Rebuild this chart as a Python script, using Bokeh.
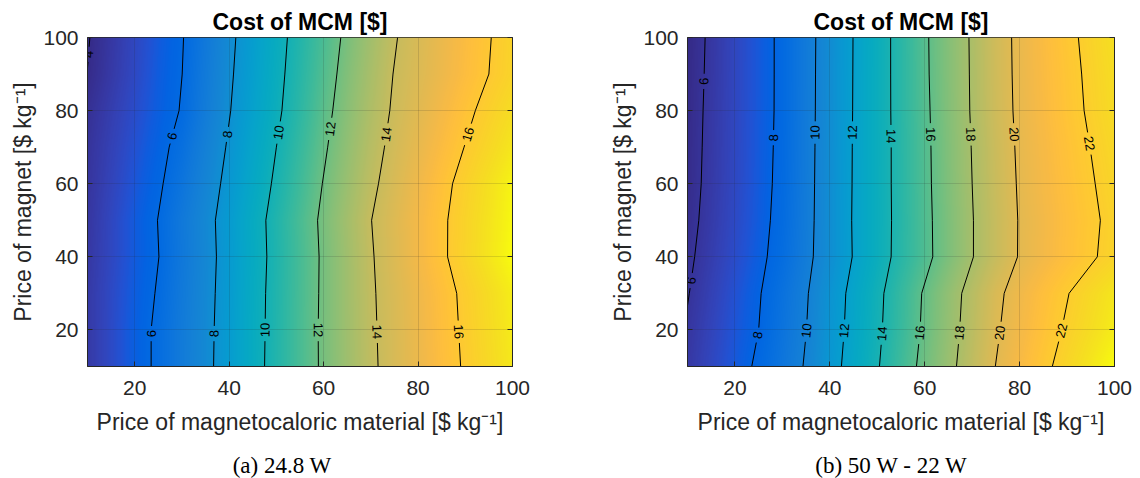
import math
import numpy as np
from bokeh.plotting import figure
from bokeh.layouts import row, column
from bokeh.models import (Range1d, LinearColorMapper, FixedTicker, LinearAxis, Div, Spacer,
                          CustomJSTickFormatter)
from bokeh.core.properties import value
from bokeh.embed import file_html
from bokeh.resources import INLINE

# ---------------------------------------------------------------- data
# Price of magnetocaloric material [$ kg^-1] (columns)
mcm_price = [10, 15, 20, 25, 30, 35, 40, 45, 50, 55, 60, 65, 70, 75, 80, 85, 90, 95, 100]
# Price of magnet [$ kg^-1] (rows)
magnet_price = [10, 20, 30, 40, 50, 60, 70, 80, 90, 100]

# Cost of MCM [$] for the 24.8 W design, one row per magnet price
cost_24w8 = [
    [4.50, 5.04, 5.59, 6.18, 6.94, 7.70, 8.58, 9.54, 10.46, 11.33, 12.19, 13.00, 13.81, 14.43, 14.99, 15.55, 16.11, 16.68, 17.24],
    [4.50, 5.04, 5.59, 6.18, 6.93, 7.68, 8.56, 9.52, 10.44, 11.33, 12.20, 13.02, 13.84, 14.45, 15.02, 15.59, 16.16, 16.74, 17.31],
    [4.50, 5.02, 5.53, 6.08, 6.86, 7.64, 8.52, 9.50, 10.42, 11.31, 12.18, 13.03, 13.87, 14.48, 15.06, 15.63, 16.21, 16.80, 17.38],
    [4.45, 4.96, 5.47, 5.98, 6.78, 7.59, 8.48, 9.44, 10.38, 11.28, 12.17, 13.04, 13.91, 14.57, 15.20, 15.84, 16.48, 17.14, 17.79],
    [4.40, 4.94, 5.47, 6.02, 6.82, 7.63, 8.52, 9.48, 10.42, 11.33, 12.23, 13.11, 13.98, 14.60, 15.22, 15.84, 16.46, 17.07, 17.69],
    [4.35, 4.85, 5.35, 5.85, 6.59, 7.44, 8.32, 9.26, 10.20, 11.13, 12.05, 12.91, 13.78, 14.46, 15.09, 15.71, 16.34, 16.96, 17.59],
    [4.30, 4.77, 5.24, 5.71, 6.34, 7.23, 8.13, 9.07, 10.00, 10.93, 11.85, 12.72, 13.59, 14.30, 14.88, 15.46, 16.03, 16.61, 17.19],
    [4.20, 4.66, 5.11, 5.57, 6.06, 7.00, 7.94, 8.86, 9.78, 10.72, 11.66, 12.54, 13.39, 14.15, 14.69, 15.23, 15.77, 16.31, 16.85],
    [4.01, 4.51, 5.00, 5.50, 5.99, 6.91, 7.83, 8.75, 9.67, 10.59, 11.50, 12.39, 13.24, 14.05, 14.54, 15.02, 15.51, 16.00, 16.49],
    [3.95, 4.45, 4.95, 5.44, 5.94, 6.81, 7.74, 8.66, 9.58, 10.48, 11.36, 12.24, 13.08, 13.93, 14.46, 14.96, 15.45, 15.95, 16.45],
]

# Cost of MCM [$] for the 50 W - 22 W design, one row per magnet price
cost_50w_22w = [
    [6.20, 6.85, 7.49, 8.21, 9.15, 10.13, 11.39, 12.64, 13.88, 15.18, 16.44, 17.59, 18.80, 20.03, 20.86, 21.69, 22.51, 23.34, 24.17],
    [6.10, 6.73, 7.37, 8.00, 8.99, 9.98, 11.24, 12.49, 13.73, 14.99, 16.24, 17.43, 18.63, 19.85, 20.67, 21.42, 22.17, 22.89, 23.60],
    [5.95, 6.60, 7.25, 7.90, 8.86, 9.88, 11.14, 12.42, 13.65, 14.91, 16.16, 17.34, 18.52, 19.71, 20.54, 21.24, 21.94, 22.65, 23.35],
    [5.81, 6.44, 7.06, 7.69, 8.55, 9.64, 10.83, 12.07, 13.31, 14.49, 15.61, 16.76, 17.94, 19.06, 20.09, 20.67, 21.26, 21.84, 22.42],
    [5.70, 6.33, 6.96, 7.59, 8.42, 9.58, 10.82, 12.10, 13.29, 14.47, 15.63, 16.78, 17.94, 19.05, 20.08, 20.64, 21.21, 21.77, 22.34],
    [5.63, 6.27, 6.90, 7.54, 8.34, 9.55, 10.81, 12.08, 13.30, 14.49, 15.67, 16.84, 18.00, 19.14, 20.14, 20.73, 21.31, 21.89, 22.48],
    [5.61, 6.24, 6.88, 7.52, 8.30, 9.53, 10.79, 12.07, 13.29, 14.50, 15.69, 16.87, 18.05, 19.21, 20.20, 20.80, 21.41, 22.02, 22.63],
    [5.58, 6.22, 6.86, 7.50, 8.27, 9.51, 10.77, 12.05, 13.30, 14.53, 15.73, 16.93, 18.12, 19.31, 20.27, 20.90, 21.54, 22.18, 22.82],
    [5.55, 6.19, 6.84, 7.49, 8.27, 9.50, 10.76, 12.04, 13.30, 14.54, 15.78, 16.96, 18.14, 19.35, 20.30, 20.95, 21.60, 22.25, 22.90],
    [5.51, 6.17, 6.83, 7.49, 8.27, 9.49, 10.74, 12.03, 13.29, 14.55, 15.80, 16.98, 18.16, 19.37, 20.32, 21.00, 21.68, 22.35, 23.03],
]

levels_24w8 = [4, 6, 8, 10, 12, 14, 16]
levels_50w_22w = [6, 8, 10, 12, 14, 16, 18, 20, 22]

ticks = [20, 40, 60, 80, 100]
title_text = "Cost of MCM [$]"
x_label = "Price of magnetocaloric material [$ kg\u207b\u00b9]"
y_label = "Price of magnet [$ kg\u207b\u00b9]"
caption_a = "(a) 24.8 W"
caption_b = "(b) 50 W - 22 W"

# heights (magnet price) at which each contour carries its value label
label_rows_a = {4: [95.4], 6: [73, 19], 8: [73.5, 19], 10: [74, 20], 12: [75, 20],
                14: [73.5, 19.5], 16: [73.5, 19.5]}
label_rows_b = {6: [88, 33.5], 8: [72.6, 18.6], 10: [74, 19.8], 12: [74, 19.8],
                14: [73, 19], 16: [73.5, 19.2], 18: [73.5, 19.2], 20: [73.5, 19.2],
                22: [71, 19.8]}

# ---------------------------------------------------------------- colormap
PARULA = [
    [0.2081, 0.1663, 0.5292], [0.2116, 0.1898, 0.5777], [0.2123, 0.2138, 0.6270],
    [0.2081, 0.2386, 0.6771], [0.1959, 0.2645, 0.7279], [0.1707, 0.2919, 0.7792],
    [0.1253, 0.3242, 0.8303], [0.0591, 0.3598, 0.8683], [0.0117, 0.3875, 0.8820],
    [0.0060, 0.4086, 0.8828], [0.0165, 0.4266, 0.8786], [0.0329, 0.4430, 0.8720],
    [0.0498, 0.4586, 0.8641], [0.0629, 0.4737, 0.8554], [0.0723, 0.4887, 0.8467],
    [0.0779, 0.5040, 0.8384], [0.0793, 0.5200, 0.8312], [0.0749, 0.5375, 0.8263],
    [0.0641, 0.5570, 0.8240], [0.0488, 0.5772, 0.8228], [0.0343, 0.5966, 0.8199],
    [0.0265, 0.6137, 0.8135], [0.0239, 0.6287, 0.8038], [0.0231, 0.6418, 0.7913],
    [0.0228, 0.6535, 0.7768], [0.0267, 0.6642, 0.7607], [0.0384, 0.6743, 0.7436],
    [0.0590, 0.6838, 0.7254], [0.0843, 0.6928, 0.7062], [0.1133, 0.7015, 0.6859],
    [0.1453, 0.7098, 0.6646], [0.1801, 0.7177, 0.6424], [0.2178, 0.7250, 0.6193],
    [0.2586, 0.7317, 0.5954], [0.3022, 0.7376, 0.5712], [0.3482, 0.7424, 0.5473],
    [0.3953, 0.7459, 0.5244], [0.4420, 0.7481, 0.5033], [0.4871, 0.7491, 0.4840],
    [0.5300, 0.7491, 0.4661], [0.5709, 0.7485, 0.4494], [0.6099, 0.7473, 0.4337],
    [0.6473, 0.7456, 0.4188], [0.6834, 0.7435, 0.4044], [0.7184, 0.7411, 0.3905],
    [0.7525, 0.7384, 0.3768], [0.7858, 0.7356, 0.3633], [0.8185, 0.7327, 0.3498],
    [0.8507, 0.7299, 0.3360], [0.8824, 0.7274, 0.3217], [0.9139, 0.7258, 0.3063],
    [0.9450, 0.7261, 0.2886], [0.9739, 0.7314, 0.2666], [0.9938, 0.7455, 0.2403],
    [0.9990, 0.7653, 0.2164], [0.9955, 0.7861, 0.1967], [0.9880, 0.8066, 0.1794],
    [0.9789, 0.8271, 0.1633], [0.9697, 0.8481, 0.1475], [0.9626, 0.8705, 0.1309],
    [0.9589, 0.8949, 0.1132], [0.9598, 0.9218, 0.0948], [0.9661, 0.9514, 0.0755],
    [0.9763, 0.9831, 0.0538],
]


def parula(n=256):
    t = np.array(PARULA)
    src = np.linspace(0, 1, len(t))
    dst = np.linspace(0, 1, n)
    ch = [np.interp(dst, src, t[:, k]) for k in range(3)]
    return ["#%02x%02x%02x" % tuple(int(round(c * 255)) for c in rgb) for rgb in zip(*ch)]


PALETTE = parula()

# ---------------------------------------------------------------- geometry
FRAME_W_A, FRAME_W_B, FRAME_H = 425, 427, 329
FIG_H = 448          # plot part; the sub-figure captions sit underneath
CAP_H = 30
FONT = "Liberation Sans"
INK = "#262626"
LABEL_FS = 13


def smooth_field(z, nx, ny):
    """Bilinear resampling of the cost grid onto the pixel grid of the frame."""
    z = np.asarray(z, dtype=float)
    xf = 10 + (np.arange(nx) + 0.5) * 90.0 / nx
    yf = 10 + (np.arange(ny) + 0.5) * 90.0 / ny
    along_x = np.array([np.interp(xf, mcm_price, r) for r in z])
    return np.array([np.interp(yf, magnet_price, along_x[:, i]) for i in range(nx)]).T


def edge_crossing(z, j0, j1, level):
    for col in (0, -1):
        a, b = z[j0][col], z[j1][col]
        if (a - level) * (b - level) < 0:
            t = (level - a) / (b - a)
            return (float(mcm_price[col]), magnet_price[j0] + t * (magnet_price[j1] - magnet_price[j0]))
    return None


def contour_paths(z, level):
    """Iso-cost line; every row of the grid rises monotonically with MCM price."""
    z = np.asarray(z, dtype=float)
    paths, cur = [], []
    for j, yv in enumerate(magnet_price):
        r = z[j]
        if r[0] <= level <= r[-1]:
            if not cur and j > 0:
                e = edge_crossing(z, j - 1, j, level)
                if e:
                    cur.append(e)
            cur.append((float(np.interp(level, r, mcm_price)), float(yv)))
        elif cur:
            e = edge_crossing(z, j - 1, j, level)
            if e:
                cur.append(e)
            paths.append(cur)
            cur = []
    if cur:
        paths.append(cur)
    return paths


def cut(path, y0, y1):
    px = [p[0] for p in path]
    py = [p[1] for p in path]
    lo = [p for p in path if p[1] < y0]
    if lo and py[0] < y0 <= py[-1]:
        lo = lo + [(float(np.interp(y0, py, px)), y0)]
    hi = [p for p in path if p[1] > y1]
    if hi and py[0] <= y1 < py[-1]:
        hi = [(float(np.interp(y1, py, px)), y1)] + hi
    return [s for s in (lo, hi) if len(s) >= 2]


def labelled_contours(z, levels, label_rows, ppx, ppy, fs):
    line_x, line_y = [], []
    lab_x, lab_y, lab_t, lab_a = [], [], [], []
    for lev in levels:
        paths = contour_paths(z, lev)
        txt = "%d" % lev
        for yl in label_rows.get(lev, []):
            for k, path in enumerate(paths):
                py = [p[1] for p in path]
                if not (py[0] <= yl <= py[-1]):
                    continue
                px = [p[0] for p in path]
                xl = float(np.interp(yl, py, px))
                i = max(0, min(len(py) - 2, int(np.searchsorted(py, yl)) - 1))
                dx = (px[i + 1] - px[i]) * ppx
                dy = (py[i + 1] - py[i]) * ppy
                ang = math.atan2(dy, dx)
                if ang > math.pi / 2 + 1e-9:
                    ang -= math.pi
                elif ang <= -math.pi / 2:
                    ang += math.pi
                lab_x.append(xl); lab_y.append(yl); lab_t.append(txt); lab_a.append(ang)
                half = len(txt) * 0.556 * fs / 2 + 4
                gy = half * abs(dy) / math.hypot(dx, dy) / ppy
                paths = paths[:k] + cut(path, yl - gy, yl + gy) + paths[k + 1:]
                break
        for path in paths:
            line_x.append([p[0] for p in path])
            line_y.append([p[1] for p in path])
    return line_x, line_y, lab_x, lab_y, lab_t, lab_a


def panel(z, levels, label_rows, frame_w, left, right):
    p = figure(width=left + frame_w + right, height=FIG_H, output_backend="svg",
               toolbar_location=None, x_range=Range1d(10, 100), y_range=Range1d(10, 100),
               min_border_left=left, min_border_right=right, min_border_top=37,
               min_border_bottom=FIG_H - 37 - FRAME_H, title=title_text)
    p.title.align = "center"
    p.title.text_font = FONT
    p.title.text_font_size = "23px"
    p.title.text_font_style = "bold"
    p.title.text_color = "#000000"
    p.title.standoff = 6

    zf = smooth_field(z, frame_w, FRAME_H)
    mapper = LinearColorMapper(palette=PALETTE, low=float(np.min(z)), high=float(np.max(z)))
    img = p.image(image=[zf], x=10, y=10, dw=90, dh=90, color_mapper=mapper)
    img.level = "image"

    ppx = frame_w / 90.0
    ppy = FRAME_H / 90.0
    lx, ly, tx, ty, tt, ta = labelled_contours(z, levels, label_rows, ppx, ppy, LABEL_FS)
    p.multi_line(lx, ly, line_color="black", line_width=1.0)
    p.text(tx, ty, text=tt, angle=ta, text_font=value(FONT), text_font_size="%dpx" % LABEL_FS,
           text_color="black", text_align="center", text_baseline="middle")

    for ax in (p.xaxis[0], p.yaxis[0]):
        ax.ticker = FixedTicker(ticks=ticks)
        ax.major_tick_in = 5
        ax.major_tick_out = 0
        ax.minor_tick_in = 0
        ax.minor_tick_out = 0
        ax.axis_line_color = INK
        ax.major_tick_line_color = INK
        ax.major_label_text_font = FONT
        ax.major_label_text_font_size = "21px"
        ax.major_label_text_color = INK
        ax.axis_label_text_font = FONT
        ax.axis_label_text_font_size = "23px"
        ax.axis_label_text_font_style = "normal"
        ax.axis_label_text_color = INK
    p.xaxis.axis_label = x_label
    p.yaxis.axis_label = y_label
    p.xaxis.major_label_standoff = 14
    p.xaxis.axis_label_standoff = 11
    p.yaxis.major_label_standoff = 9
    p.yaxis.axis_label_standoff = 4

    side = LinearAxis(ticker=FixedTicker(ticks=ticks),
                      formatter=CustomJSTickFormatter(code="return ''"),
                      major_tick_in=5, major_tick_out=0, minor_tick_in=0, minor_tick_out=0,
                      axis_line_color=INK, major_tick_line_color=INK, major_label_standoff=0)
    p.add_layout(side, "right")

    p.grid.ticker = FixedTicker(ticks=ticks)
    p.grid.grid_line_color = INK
    p.grid.grid_line_alpha = 0.15
    p.grid.level = "underlay"
    p.outline_line_color = INK
    p.outline_line_width = 1
    p.background_fill_color = "white"
    p.border_fill_color = "white"
    return p


def caption(text, width):
    """Serif sub-figure caption placed below a panel."""
    return Div(text=text, width=width, height=CAP_H, margin=0,
               styles={"font-family": "'Liberation Serif', serif", "font-size": "23px",
                       "line-height": "36px", "text-align": "center", "color": "#000000",
                       "white-space": "nowrap", "overflow": "visible"})


pa = panel(cost_24w8, levels_24w8, label_rows_a, FRAME_W_A, 87, 58)
pb = panel(cost_50w_22w, levels_50w_22w, label_rows_b, FRAME_W_B, 117, 26)

captions = row(caption(caption_a, 564), Spacer(width=6, height=CAP_H),
               Spacer(width=72, height=CAP_H), caption(caption_b, 498))
layout = column(row(pa, pb), captions)
open("out.html", "w").write(file_html(layout, INLINE))
